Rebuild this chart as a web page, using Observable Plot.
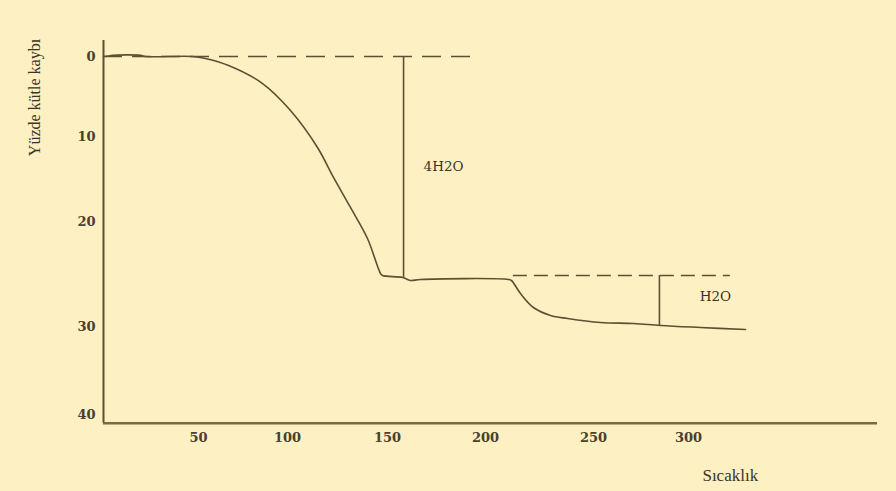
<!DOCTYPE html>
<html>
<head>
<meta charset="utf-8">
<script src="https://cdn.jsdelivr.net/npm/d3@7"></script>
<script src="https://cdn.jsdelivr.net/npm/@observablehq/plot@0.6"></script>
<style>
  html, body { margin: 0; padding: 0; background: #ffffff; }
  #chart { width: 896px; height: 491px; overflow: hidden; }
  #chart svg { display: block; background: #fdf0c2; }
</style>
</head>
<body>
<div id="chart"></div>
<script>
// Temperature (x) and percentage mass loss (y)
const temperature = [0, 2.6, 4.7, 19.5, 22.1, 46.8, 53.9, 66.9, 86.0, 101.5, 115, 123, 131.5, 140, 146.5, 147.5, 157.7, 161.7, 166.8, 210.6, 212.0, 216.2, 222.2, 230.1, 238.0, 253.7, 271.1, 285.3, 306.3, 330.0];
const massLoss    = [0, -0.06, -0.15, -0.15, 0, 0, 0.25, 1.13, 3.38, 6.75, 11.29, 14.82, 18.35, 21.62, 24.95, 25.14, 25.33, 25.62, 25.52, 25.52, 25.62, 26.86, 28.19, 28.95, 29.24, 29.62, 29.71, 29.90, 30.11, 30.34];

// Tick labels
const xTicks = [50, 100, 150, 200, 250, 300];
const yTicks = [0, 10, 20, 30, 40];

// Reference (dashed) levels and step markers
const level1 = {y: 0, x1: 0, x2: 194.9};
const level2 = {y: 25.14, x1: 212.9, x2: 322};
const step1 = {x: 158.2, y1: 0, y2: 25.33, label: "4H2O", lx: 178.6, ly: 13.6};
const step2 = {x: 284.7, y1: 25.14, y2: 29.90, label: "H2O", lx: 314.2, ly: 27.2};

// Axis extents (data units)
const xAxisEnd = 399.5;
const yAxisTop = -2;
const yAxisBottom = 41;

const yTitle = "Yüzde kütle kaybı";
const xTitle = "Sıcaklık";
const xTitleAt = 322;

const curve = temperature.map((t, i) => ({t, v: massLoss[i]}));

const ink = "#5c5034";
const textInk = "#3b3325";
const serif = "Liberation Serif, Times New Roman, serif";
const tickFont = "DejaVu Serif, serif";

const chart = Plot.plot({
  width: 896,
  height: 491,
  marginLeft: 103,
  marginRight: 19,
  marginTop: 40,
  marginBottom: 68,
  style: {background: "#fdf0c2", fontFamily: tickFont, fontSize: "13px", fontWeight: "bold", color: "#4a402e"},
  x: {
    type: "linear",
    domain: [0, 50, 100, 150, 200, 250, 300],
    range: [103, 198, 287, 387, 485, 593, 688],
    ticks: xTicks,
    tickSize: 0,
    tickPadding: 9,
    tickFormat: d => String(d),
    label: null
  },
  y: {
    type: "linear",
    domain: [0, 10, 20, 30, 40],
    range: [56, 136, 221, 326, 414],
    ticks: yTicks,
    tickSize: 0,
    tickPadding: 8,
    tickFormat: d => String(d),
    label: null
  },
  marks: [
    // axes lines
    Plot.ruleX([0], {y1: yAxisTop, y2: yAxisBottom, stroke: ink, strokeWidth: 2}),
    Plot.ruleY([yAxisBottom], {x1: 0, x2: xAxisEnd, stroke: "#7a6a44", strokeWidth: 2.4}),
    // dashed reference levels
    Plot.ruleY([level1], {y: "y", x1: "x1", x2: "x2", stroke: ink, strokeWidth: 1.6, strokeDasharray: "19,10"}),
    Plot.ruleY([level2], {y: "y", x1: "x1", x2: "x2", stroke: ink, strokeWidth: 1.6, strokeDasharray: "14,7"}),
    // step markers
    Plot.ruleX([step1, step2], {x: "x", y1: "y1", y2: "y2", stroke: ink, strokeWidth: 1.6}),
    Plot.text([step1, step2], {x: "lx", y: "ly", text: "label", fill: "#3b3325", fontSize: 13.5, fontWeight: "normal", fontFamily: tickFont}),
    // the curve
    Plot.line(curve, {x: "t", y: "v", stroke: ink, strokeWidth: 1.6, curve: "catmull-rom"}),
    // titles
    Plot.text([yTitle], {frameAnchor: "top-left", textAnchor: "middle", dx: -75, dy: 57, rotate: -90, fill: textInk, fontSize: 16, fontWeight: "normal", fontFamily: serif}),
    Plot.text([xTitle], {x: () => xTitleAt, frameAnchor: "bottom", dy: 57, fill: textInk, fontSize: 17, fontWeight: "normal", fontFamily: serif})
  ]
});

document.getElementById("chart").appendChild(chart);
</script>
</body>
</html>
